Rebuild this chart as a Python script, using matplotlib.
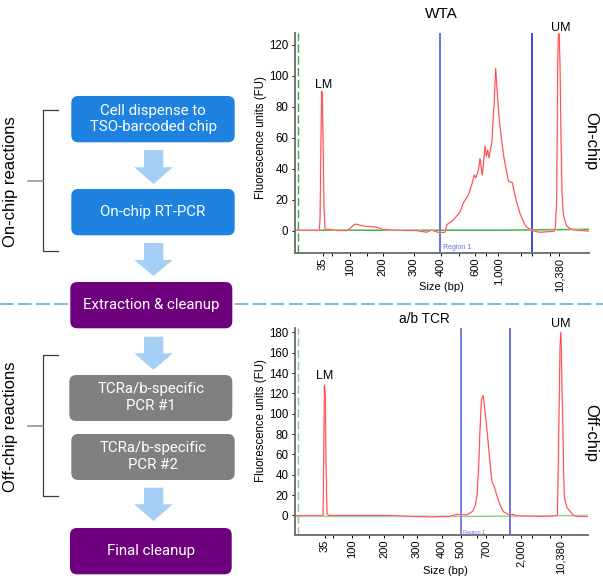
import matplotlib
matplotlib.use("Agg")
import matplotlib.pyplot as plt
from matplotlib.patches import FancyBboxPatch, Polygon

W, H = 603, 581
SANS = ["Liberation Sans", "DejaVu Sans"]
BOX_FONT = ["Roboto", "DejaVu Sans"]

# traces: scan position vs fluorescence
WTA_POS = [134, 208, 210, 213, 215, 217, 219, 222, 225, 240, 260, 290, 300, 310, 318, 330, 350, 380, 395, 420,
           500, 530, 545, 555, 570, 585, 590, 610, 630, 640, 655, 665, 673, 677, 682, 686, 690, 694, 697,
           701, 705, 709, 713, 717, 721, 726, 730, 733, 737, 742, 748, 755, 762, 775, 787, 798, 810,
           820, 828, 840, 855, 870, 890, 912, 916, 920, 923, 925, 928, 930, 933, 936, 940, 950, 960,
           970, 1000, 1017]
WTA_FU = [0.3, 0.3, 8, 60, 90, 88, 60, 15, 1, 0.8, 0.2, 0, 1.5, 3.5, 4.3, 3.5, 2.7, 2.3, 1, 0.5,
          0, -1, 0.5, -0.5, -1.2, -1, 3.7, 7, 12, 18, 23, 29.5, 36, 34, 37, 40, 46.7, 40, 36,
          45, 54.6, 48, 52, 47, 52, 58, 75, 84, 104.7, 88, 71, 58, 47, 32, 31, 20, 11,
          6, 2.6, 1, -0.5, -1, -0.7, -0.5, 2, 20, 105, 127, 127, 107, 60, 25, 10, 3, 1.5,
          0.5, 0, -0.3]
TCR_POS = [134, 218, 219, 221, 223, 226, 228, 231, 235, 400, 540, 600, 610, 620, 650, 668, 676, 681, 686,
           690, 694, 699, 703, 712, 721, 726, 733, 740, 745, 752, 760, 775, 790, 800, 880, 915, 922, 925,
           927, 930, 932, 934, 936, 938, 941, 943, 950, 960, 970, 980, 1013]
TCR_FU = [-0.3, -0.3, 0, 50, 128, 118, 50, 2, 0, 0, -1.5, -1, 0, 1, 0.5, 4, 10, 20, 48,
          85, 113, 118, 108, 80, 48, 33, 28, 20, 15, 9, 3.6, 1, 1, -0.5, -1, -0.5, 0, 55,
          100, 165, 180, 165, 120, 98, 40, 18, 8, 4, 0, -1, -1]

WTA_YTICKS = [0, 20, 40, 60, 80, 100, 120]
TCR_YTICKS = [0, 20, 40, 60, 80, 100, 120, 140, 160, 180]
WTA_XTICKS = [218, 300, 398, 491, 572, 675, 745, 928]
WTA_XLABELS = ["35", "100", "200", "300", "400", "600", "1,000", "10,380"]
WTA_XMINOR = [245, 350, 628, 708, 812, 847, 900]
TCR_XTICKS = [224, 306, 403, 500, 575, 632, 708, 812, 933]
TCR_XLABELS = ["35", "100", "200", "300", "400", "500", "700", "2,000", "10,380"]
TCR_XMINOR = [250, 357, 460, 680, 760, 845, 900]

STEPS = ["Cell dispense to\nTSO-barcoded chip", "On-chip RT-PCR", "Extraction & cleanup",
         "TCRa/b-specific\nPCR #1", "TCRa/b-specific\nPCR #2", "Final cleanup"]
STEP_COLORS = ["#1e82e0", "#1e82e0", "#6e007e", "#808080", "#808080", "#6e007e"]
STEP_BOXES = [(71.3, 96, 234.7, 142.3), (71.3, 189, 234.7, 235.3), (70.3, 282, 232.3, 328.3),
              (69.3, 375, 232.3, 421), (71.3, 434, 234.7, 480), (70, 528, 231.7, 574.3)]
ARROWS = [(150, 167.3, 184), (243, 260, 276), (336.7, 353.3, 370), (487.7, 504.3, 521)]
BRACKETS = [(110.3, 251.3, 180.7), (355.3, 496, 426)]


def trace_axes(fig, box, xlim, ylim):
    left, top, right, bottom = box
    ax = fig.add_axes([left / W, 1 - bottom / H, (right - left) / W, (bottom - top) / H])
    ax.set_xlim(*xlim)
    ax.set_ylim(*ylim)
    ax.patch.set_alpha(0)
    for side in ["top", "right"]:
        ax.spines[side].set_visible(False)
    for side in ["left", "bottom"]:
        ax.spines[side].set_color("#6a6a6a")
        ax.spines[side].set_linewidth(1.3)
    return ax


def draw_trace(ax, pos, fu, xticks, xlabels, xminor, yticks, green, regions, lm, um, region_text, fade):
    ax.axvline(143, color="#3aa64a", lw=1.0, ls=(0, (6, 2.5)), alpha=fade)
    ax.plot(green[0], green[1], color="#4caf50", lw=1.1, alpha=fade)
    for r, col in regions:
        ax.axvline(r, color=col, lw=1.4)
    ax.plot(pos, fu, color="#ffc0c0", lw=1.2)
    ax.plot(pos, fu, color="#ff2020", lw=0.55, alpha=0.85)
    ax.set_xticks(xticks)
    ax.set_xticklabels(xlabels, rotation=90, fontsize=8, family=SANS)
    ax.set_xticks(xminor, minor=True)
    ax.set_yticks(yticks)
    ax.set_yticklabels([str(v) for v in yticks], fontsize=8.3, family=SANS)
    ax.tick_params(axis="x", which="both", length=2.5, width=0.7, pad=1)
    ax.tick_params(axis="y", length=2.5, width=0.7, pad=2)
    ax.text(lm[0], lm[1], "LM", fontsize=9, family=SANS, ha="center", va="center")
    ax.text(um[0], um[1], "UM", fontsize=9, family=SANS, ha="center", va="center", clip_on=False)
    ax.text(region_text[0], region_text[1], "Region 1", fontsize=region_text[2], family=SANS,
            color="#6a70e0", ha="left", va="center")


fig = plt.figure(figsize=(W / 100, H / 100), dpi=100)
bg = fig.add_axes([0, 0, 1, 1])
bg.set_xlim(0, W)
bg.set_ylim(H, 0)
bg.axis("off")

bg.plot([0, W], [304, 304], color="#6fb0ea", lw=1.3, ls=(0, (7.5, 2.5)), zorder=1)

for label, color, (x0, y0, x1, y1) in zip(STEPS, STEP_COLORS, STEP_BOXES):
    bg.add_patch(FancyBboxPatch((x0 + 6, y0 + 6), x1 - x0 - 12, y1 - y0 - 12,
                                boxstyle="round,pad=6,rounding_size=7", fc=color, ec="none", zorder=2))
    bg.text((x0 + x1) / 2, (y0 + y1) / 2 - 0.5, label, color="white", fontsize=10.8, family=BOX_FONT,
            ha="center", va="center", linespacing=1.2, zorder=3)

for y0, y_neck, y1 in ARROWS:
    bg.add_patch(Polygon([(144, y0), (163.3, y0), (163.3, y_neck), (172.7, y_neck), (153.5, y1),
                          (134.3, y_neck), (144, y_neck)], fc="#a5cff5", ec="none", zorder=2))

for y0, y1, y_mid in BRACKETS:
    bg.plot([58, 43.3, 43.3, 58], [y0, y0, y1, y1], color="#3c3c3c", lw=0.9, zorder=2)
    bg.plot([28.3, 43.3], [y_mid, y_mid], color="#8a8a8a", lw=1.1, zorder=2)

bg.text(11, 181.7, "On-chip reactions", rotation=90, fontsize=12, family=SANS, ha="center", va="center")
bg.text(11, 426.7, "Off-chip reactions", rotation=90, fontsize=12, family=SANS, ha="center", va="center")
bg.text(441, 14, "WTA", fontsize=11, family=SANS, ha="center", va="center")
bg.text(424.3, 319.3, "a/b TCR", fontsize=9.8, family=SANS, ha="center", va="center")
bg.text(441.7, 287.3, "Size (bp)", fontsize=8, family=SANS, ha="center", va="center")
bg.text(445, 570.7, "Size (bp)", fontsize=8, family=SANS, ha="center", va="center")
bg.text(261, 138, "Fluorescence units (FU)", rotation=90, fontsize=8.3, family=SANS, ha="center", va="center")
bg.text(261, 421, "Fluorescence units (FU)", rotation=90, fontsize=8.3, family=SANS, ha="center", va="center")
bg.text(590.7, 140.7, "On-chip", rotation=-90, fontsize=12, family=SANS, ha="center", va="center")
bg.text(590.7, 433, "Off-chip", rotation=-90, fontsize=12, family=SANS, ha="center", va="center")

top = trace_axes(fig, (294.7, 33, 589, 253), (134, 1017), (-14.4, 127.6))
draw_trace(top, WTA_POS, WTA_FU, WTA_XTICKS, WTA_XLABELS, WTA_XMINOR, WTA_YTICKS,
           ([134, 740, 1017], [0.3, 0.3, 0.9]), [(570, "#6a72dc"), (847, "#3f4ad8")],
           (222, 94), (932, 131), (580, -11, 5), 1.0)

low = trace_axes(fig, (294.7, 328.3, 587.7, 535), (134, 1013), (-19.3, 184))
draw_trace(low, TCR_POS, TCR_FU, TCR_XTICKS, TCR_XLABELS, TCR_XMINOR, TCR_YTICKS,
           ([134, 670, 1013], [-1, -1, 0]), [(632, "#7a80e0"), (780, "#6a72dc")],
           (225, 137), (932, 188), (640, -16.5, 4), 0.6)

fig.savefig("out.png", dpi=100)
